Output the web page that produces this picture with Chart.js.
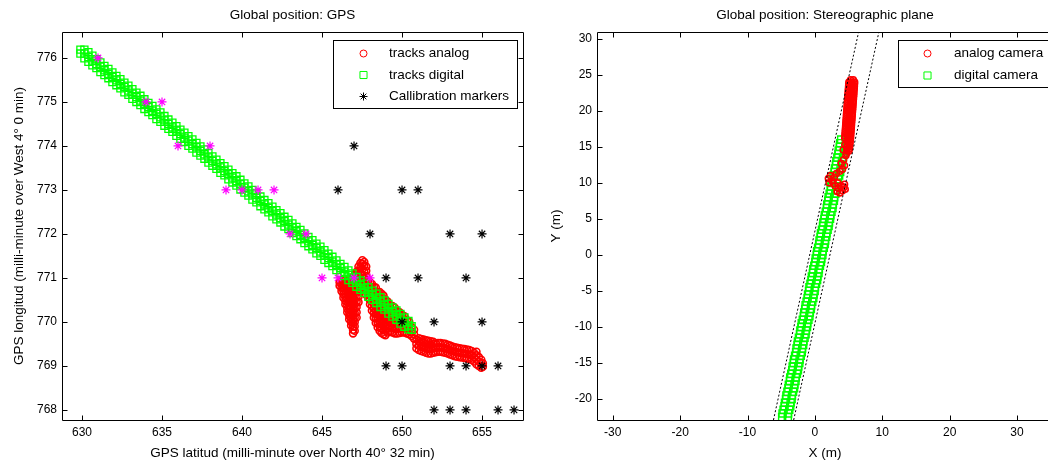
<!DOCTYPE html>
<html>
<head>
<meta charset="utf-8">
<title>Global position</title>
<script src="https://cdn.jsdelivr.net/npm/chart.js@4.4.1/dist/chart.umd.min.js"></script>
<style>
  html, body { margin: 0; padding: 0; background: #fff; overflow: hidden; }
  #wrap { position: relative; width: 1048px; height: 464px; overflow: hidden; background: #fff; }
  #gps { position: absolute; left: 0; top: 0; }
  #plane { position: absolute; left: 520px; top: 0; }
</style>
</head>
<body>
<div id="wrap">
  <canvas id="gps" width="530" height="464"></canvas>
  <canvas id="plane" width="540" height="464"></canvas>
</div>
<script>
// ---- axis ranges and tick labels
const gpsXRange = [628.75, 657.56];
const gpsYRange = [767.77, 776.59];
const gpsXTicks = [630, 635, 640, 645, 650, 655];
const gpsYTicks = [768, 769, 770, 771, 772, 773, 774, 775, 776];

const planeXRange = [-32.34, 35.34];
const planeYRange = [-22.91, 30.93];
const planeXTicks = [-30, -20, -10, 0, 10, 20, 30];
const planeYTicks = [-20, -15, -10, -5, 0, 5, 10, 15, 20, 25, 30];

// ---- left plot: GPS positions (latitude, longitude)
const calibBlack = [
  [647, 774], [646, 773], [650, 773], [651, 773], [648, 772], [653, 772], [655, 772],
  [649, 771], [651, 771], [654, 771], [650, 770], [652, 770], [655, 770],
  [649, 769], [650, 769], [653, 769], [654, 769], [655, 769], [656, 769],
  [652, 768], [653, 768], [654, 768], [656, 768], [657, 768]
];
const calibMagenta = [
  [631, 776], [634, 775], [635, 775], [636, 774], [638, 774], [639, 773], [640, 773],
  [641, 773], [642, 773], [643, 772], [644, 772], [645, 771], [646, 771], [647, 771], [648, 771]
];
// digital track: each row is [latitude, longitudes...]
const gpsDigitalCols = [
  [629.90,776.10,776.19],[630.15,775.99,776.10,776.19],[630.40,775.91,776.02,776.13],[630.65,775.83,775.94,776.05],
  [630.90,775.77,775.86,775.97],[631.15,775.68,775.80,775.90],[631.40,775.61,775.72,775.82],[631.65,775.54,775.64,775.75],
  [631.90,775.45,775.57,775.67],[632.15,775.38,775.49,775.59],[632.40,775.31,775.41,775.52],[632.65,775.22,775.34,775.44],
  [632.90,775.16,775.26,775.37],[633.15,775.07,775.19,775.29],[633.40,775.00,775.11,775.21],[633.65,774.93,775.03,775.14],
  [633.90,774.84,774.96,775.06],[634.15,774.77,774.88,774.98],[634.40,774.70,774.80,774.91],[634.65,774.61,774.73,774.83],
  [634.90,774.55,774.65,774.76],[635.15,774.46,774.58,774.68],[635.40,774.39,774.50,774.60],[635.65,774.32,774.42,774.53],
  [635.90,774.23,774.35,774.45],[636.15,774.16,774.27,774.37],[636.40,774.09,774.19,774.30],[636.65,774.00,774.12,774.22],
  [636.90,773.94,774.04,774.15],[637.15,773.85,773.97,774.07],[637.40,773.78,773.89,773.99],[637.65,773.71,773.81,773.92],
  [637.90,773.62,773.74,773.84],[638.15,773.55,773.66,773.76],[638.40,773.48,773.58,773.69],[638.65,773.39,773.51,773.61],
  [638.90,773.33,773.43,773.54],[639.15,773.24,773.36,773.46],[639.40,773.17,773.28,773.38],[639.65,773.10,773.20,773.31],
  [639.90,773.01,773.13,773.23],[640.15,772.94,773.05,773.15],[640.40,772.87,772.97,773.08],[640.65,772.78,772.90,773.00],
  [640.90,772.72,772.82,772.93],[641.15,772.63,772.75,772.85],[641.40,772.56,772.67,772.77],[641.65,772.49,772.59,772.70],
  [641.90,772.40,772.52,772.62],[642.15,772.33,772.44,772.54],[642.40,772.26,772.36,772.47],[642.65,772.17,772.29,772.39],
  [642.90,772.11,772.21,772.32],[643.15,772.02,772.14,772.24],[643.40,771.95,772.06,772.16],[643.65,771.88,771.98,772.09],
  [643.90,771.79,771.91,772.01],[644.15,771.72,771.83,771.93],[644.40,771.65,771.75,771.86],[644.65,771.56,771.68,771.78],
  [644.90,771.50,771.60,771.71],[645.15,771.41,771.53,771.63],[645.40,771.34,771.45,771.55],[645.65,771.27,771.37,771.48],
  [645.90,771.18,771.30,771.40],[646.15,771.11,771.22,771.32],[646.40,771.04,771.14,771.25],[646.65,770.95,771.07,771.17],
  [646.90,770.89,770.99,771.10],[647.15,770.80,770.92,771.02],[647.40,770.73,770.84,770.94],[647.65,770.66,770.76,770.87],
  [647.90,770.57,770.69,770.79],[648.15,770.50,770.61,770.71],[648.40,770.43,770.53,770.64],[648.65,770.34,770.46,770.56],
  [648.90,770.28,770.38,770.49],[649.15,770.19,770.31,770.41],[649.40,770.12,770.23,770.33],[649.65,770.05,770.15,770.26],
  [649.90,769.96,770.08,770.18],[650.15,769.89,770.00,770.10],[650.40,769.83,769.92,770.02],[650.60,769.82,769.90]
];
// analog track: each row is [latitude, longitudes...]
const gpsAnalogCols = [
  // first dip and peak
  [646.10,770.82,770.90],
  [646.22,770.70,770.78,770.86,770.94],
  [646.34,770.55,770.63,770.71,770.79,770.87,770.95],
  [646.46,770.40,770.48,770.56,770.64,770.72,770.80,770.88,770.96],
  [646.58,770.22,770.30,770.38,770.46,770.54,770.62,770.70,770.78,770.86,770.94],
  [646.70,770.06,770.14,770.22,770.30,770.38,770.46,770.54,770.62,770.70,770.78,770.86,770.95],
  [646.82,769.92,770.00,770.08,770.16,770.24,770.32,770.40,770.50,770.60,770.70,770.80,770.90,770.98],
  [646.94,769.74,769.82,769.90,769.98,770.06,770.14,770.22,770.30,770.40,770.50,770.60,770.70,770.80,770.90,771.00],
  [647.04,769.80,769.90,770.00,770.10,770.20,770.30,770.40,770.50,770.60,770.70,770.80,770.90,771.00,771.08],
  [647.16,770.10,770.22,770.34,770.46,770.58,770.70,770.82,770.94,771.06,771.14],
  [647.28,770.45,770.58,770.70,770.82,770.94,771.06,771.16,771.26],
  [647.40,770.70,770.85,771.00,771.12,771.24,771.34],
  [647.52,770.78,770.92,771.06,771.20,771.32,771.40],
  [647.64,770.72,770.86,771.00,771.14,771.28,771.36],
  [647.76,770.62,770.76,770.90,771.04,771.16,771.26],
  // second slope
  [647.88,770.55,770.65,770.75,770.85,770.95],
  [648.00,770.40,770.50,770.60,770.70,770.80,770.90],
  [648.12,770.26,770.36,770.46,770.56,770.66,770.76,770.86],
  [648.24,770.10,770.20,770.30,770.40,770.50,770.60,770.70,770.80],
  [648.36,769.98,770.08,770.18,770.28,770.38,770.48,770.58,770.68,770.78],
  [648.48,769.88,769.98,770.08,770.18,770.28,770.38,770.48,770.58,770.68],
  [648.60,769.80,769.90,770.00,770.10,770.20,770.30,770.40,770.50,770.60,770.68],
  [648.72,769.75,769.85,769.95,770.05,770.15,770.25,770.35,770.45,770.55,770.64],
  [648.84,769.72,769.82,769.92,770.02,770.12,770.22,770.32,770.42,770.52,770.60],
  [648.96,769.70,769.80,769.90,770.00,770.10,770.20,770.30,770.40,770.50],
  [649.10,769.76,769.86,769.96,770.06,770.16,770.26,770.36,770.46],
  [649.25,769.78,769.88,769.98,770.08,770.18,770.28,770.38],
  [649.40,769.76,769.86,769.96,770.06,770.16,770.26,770.36],
  [649.55,769.74,769.84,769.94,770.04,770.14,770.24,770.32],
  [649.70,769.74,769.84,769.94,770.04,770.14,770.24],
  [649.85,769.75,769.85,769.95,770.05,770.15,770.22],
  [650.00,769.76,769.86,769.96,770.06,770.16],
  [650.15,769.76,769.86,769.96,770.06,770.13],
  [650.30,769.74,769.84,769.94,770.04],
  [650.45,769.72,769.82,769.92,770.00],
  [650.60,769.68,769.78,769.88],
  [650.75,769.62,769.72,769.82],
  // last stretch
  [650.90,769.40,769.50,769.60],
  [651.05,769.36,769.46,769.56,769.63],
  [651.20,769.34,769.44,769.54,769.61],
  [651.35,769.32,769.42,769.52,769.60],
  [651.50,769.30,769.40,769.50,769.58],
  [651.65,769.28,769.38,769.48,769.57],
  [651.80,769.28,769.38,769.48,769.56],
  [651.95,769.30,769.40,769.50,769.55],
  [652.10,769.31,769.41,769.51],
  [652.25,769.32,769.42,769.52],
  [652.40,769.32,769.42,769.52],
  [652.55,769.31,769.41,769.51],
  [652.70,769.30,769.40,769.50],
  [652.85,769.28,769.38,769.48],
  [653.00,769.26,769.36,769.46],
  [653.15,769.24,769.34,769.44],
  [653.30,769.22,769.32,769.42],
  [653.45,769.21,769.31,769.41],
  [653.60,769.20,769.30,769.40],
  [653.75,769.19,769.29,769.39],
  [653.90,769.18,769.28,769.38],
  [654.05,769.17,769.27,769.37],
  [654.20,769.16,769.26,769.36],
  [654.35,769.14,769.24,769.34],
  [654.50,769.10,769.20,769.30],
  [654.65,769.04,769.14,769.24,769.32],
  [654.80,769.00,769.10,769.20],
  [654.95,768.96,769.06,769.14],
  [655.05,768.98,769.06]
];

// ---- right plot: stereographic plane (X m, Y m)
const fovLeft = [[-6.15, -22.91], [6.49, 30.93]];
const fovRight = [[-3.15, -22.91], [9.50, 30.93]];
const planeDigital = [
  [-4.86,-22.5],[-4.02,-22.5],[-4.80,-22.0],[-3.97,-22.0],[-4.65,-21.5],[-3.81,-21.5],[-4.50,-21.0],[-3.66,-21.0],
  [-4.44,-20.5],[-3.60,-20.5],[-4.29,-20.0],[-3.45,-20.0],[-4.23,-19.5],[-3.40,-19.5],[-4.08,-19.0],[-3.24,-19.0],
  [-3.93,-18.5],[-3.09,-18.5],[-3.87,-18.0],[-3.03,-18.0],[-3.72,-17.5],[-2.88,-17.5],[-3.66,-17.0],[-2.83,-17.0],
  [-3.51,-16.5],[-2.67,-16.5],[-3.36,-16.0],[-2.52,-16.0],[-3.30,-15.5],[-2.46,-15.5],[-3.15,-15.0],[-2.31,-15.0],
  [-3.09,-14.5],[-2.26,-14.5],[-2.94,-14.0],[-2.10,-14.0],[-2.79,-13.5],[-1.95,-13.5],[-2.73,-13.0],[-1.89,-13.0],
  [-2.58,-12.5],[-1.74,-12.5],[-2.52,-12.0],[-1.69,-12.0],[-2.37,-11.5],[-1.53,-11.5],[-2.22,-11.0],[-1.38,-11.0],
  [-2.16,-10.5],[-1.32,-10.5],[-2.01,-10.0],[-1.17,-10.0],[-1.95,-9.5],[-1.12,-9.5],[-1.80,-9.0],[-0.96,-9.0],
  [-1.65,-8.5],[-0.81,-8.5],[-1.59,-8.0],[-0.75,-8.0],[-1.44,-7.5],[-0.60,-7.5],[-1.38,-7.0],[-0.55,-7.0],
  [-1.23,-6.5],[-0.39,-6.5],[-1.08,-6.0],[-0.24,-6.0],[-1.02,-5.5],[-0.18,-5.5],[-0.87,-5.0],[-0.03,-5.0],
  [-0.81,-4.5],[0.02,-4.5],[-0.66,-4.0],[0.18,-4.0],[-0.51,-3.5],[0.33,-3.5],[-0.45,-3.0],[0.39,-3.0],
  [-0.30,-2.5],[0.54,-2.5],[-0.24,-2.0],[0.59,-2.0],[-0.09,-1.5],[0.75,-1.5],[0.06,-1.0],[0.90,-1.0],
  [0.12,-0.5],[0.96,-0.5],[0.27,0.0],[1.11,0.0],[0.33,0.5],[1.16,0.5],[0.48,1.0],[1.32,1.0],
  [0.63,1.5],[1.47,1.5],[0.69,2.0],[1.53,2.0],[0.84,2.5],[1.68,2.5],[0.90,3.0],[1.73,3.0],
  [1.05,3.5],[1.89,3.5],[1.20,4.0],[2.04,4.0],[1.26,4.5],[2.10,4.5],[1.41,5.0],[2.25,5.0],
  [1.47,5.5],[2.30,5.5],[1.62,6.0],[2.46,6.0],[1.77,6.5],[2.61,6.5],[1.83,7.0],[2.67,7.0],
  [1.98,7.5],[2.82,7.5],[2.04,8.0],[2.87,8.0],[2.19,8.5],[3.03,8.5],[2.34,9.0],[3.18,9.0],
  [2.40,9.5],[3.24,9.5],[2.55,10.0],[3.39,10.0],[2.61,10.5],[3.44,10.5],[2.76,11.0],[3.60,11.0],
  [2.91,11.5],[3.75,11.5],[2.97,12.0],[3.81,12.0],[3.12,12.5],[3.96,12.5],[3.18,13.0],[4.01,13.0],
  [3.33,13.5],[4.17,13.5],[3.48,14.0],[4.32,14.0],[3.54,14.5],[4.38,14.5],[3.69,15.0],[4.53,15.0],
  [3.75,15.5],[4.58,15.5],[3.90,16.0],[4.74,16.0]
];
// analog camera, upper part: each row is [Y, X values...]
const planeAnalogRows = [
  [24.3,5.30,5.70],[24.0,5.05,5.50,5.90],[23.7,5.02,5.46,5.88],[23.4,5.00,5.44,5.86],[23.1,4.98,5.42,5.84],
  [22.8,4.95,5.39,5.81],[22.5,4.93,5.37,5.79],[22.2,4.91,5.35,5.77],[21.9,4.88,5.32,5.74],[21.6,4.86,5.30,5.72],
  [21.3,4.83,5.27,5.69],[21.0,4.81,5.25,5.67],[20.7,4.79,5.23,5.65],[20.4,4.76,5.20,5.62],[20.1,4.74,5.18,5.60],
  [19.8,4.71,5.15,5.57],[19.5,4.69,5.13,5.55],[19.2,4.67,5.11,5.53],[18.9,4.64,5.08,5.50],[18.6,4.62,5.06,5.48],
  [18.3,4.59,5.03,5.45],[18.0,4.57,5.01,5.43],[17.7,4.55,4.99,5.41],[17.4,4.52,4.96,5.38],[17.1,4.50,4.94,5.36],
  [16.8,4.47,4.91,5.33],[16.5,4.45,4.89,5.31],[16.2,4.43,4.87,5.29],[15.9,4.85,5.25],[15.6,4.83,5.22],
  [15.3,4.80,5.18],[15.0,4.78,5.15],[14.7,4.75,5.10],[14.4,4.72,5.05],[14.1,4.70]
];
// analog camera, scattered points over the digital track (X, Y)
const planeAnalogLow = [
  [4.45,15.30],[4.20,14.60],[4.60,13.80],[4.25,13.20],[3.90,12.70],[4.40,12.40],[4.10,11.90],[3.70,11.60],
  [2.00,10.60],[2.30,11.00],[2.60,10.30],[2.10,10.00],[2.90,10.80],[3.20,11.30],[3.40,10.00],[3.00,9.60],
  [3.50,9.20],[3.90,9.60],[4.30,9.40],[4.50,9.10],[4.10,8.90],[3.70,8.60],[3.30,8.80],[2.70,9.90],[4.40,9.80]
];

// ---- look
const FONT = '"Liberation Sans", Arial, sans-serif';
Chart.defaults.font.family = FONT;
Chart.defaults.color = '#000';

const toPts = arr => arr.map(p => ({ x: p[0], y: p[1] }));
// [x, y1, y2...] -> points
const colsToPts = rows => rows.flatMap(r => r.slice(1).map(v => ({ x: r[0], y: v })));
// [y, x1, x2...] -> points
const rowsToPts = rows => rows.flatMap(r => r.slice(1).map(v => ({ x: v, y: r[0] })));

function markerDataset(label, pts, style, radius, color, width) {
  return {
    label: label,
    data: pts,
    pointStyle: style,
    pointRadius: radius,
    pointHoverRadius: radius,
    pointBorderColor: color,
    pointBackgroundColor: 'rgba(0,0,0,0)',
    pointBorderWidth: width || 1,
    borderColor: color,
    showLine: false,
    clip: 0
  };
}

function lineDataset(data) {
  return {
    data: toPts(data),
    showLine: true,
    pointRadius: 0,
    borderColor: '#000',
    borderWidth: 1,
    borderDash: [2, 2],
    clip: 0
  };
}

// draws a legend marker by hand
function drawMarker(ctx, style, r, x, y) {
  ctx.beginPath();
  if (style === 'circle') {
    ctx.arc(x, y, r, 0, Math.PI * 2);
  } else if (style === 'rect') {
    const s = r * Math.SQRT1_2;
    ctx.rect(x - s, y - s, 2 * s, 2 * s);
  } else {
    const d = r * Math.SQRT1_2;
    ctx.moveTo(x - r, y); ctx.lineTo(x + r, y);
    ctx.moveTo(x, y - r); ctx.lineTo(x, y + r);
    ctx.moveTo(x - d, y - d); ctx.lineTo(x + d, y + d);
    ctx.moveTo(x - d, y + d); ctx.lineTo(x + d, y - d);
  }
  ctx.stroke();
}

// box, inward ticks, title and legend like the original figure
const matlabAxes = {
  id: 'matlabAxes',
  afterDatasetsDraw(chart, args, opts) {
    const { ctx, chartArea: a, scales } = chart;
    const L = Math.floor(a.left) + 0.5, R = Math.floor(a.right) + 0.5;
    const T = Math.floor(a.top) + 0.5, B = Math.floor(a.bottom) + 0.5;
    ctx.save();
    ctx.strokeStyle = '#000';
    ctx.lineWidth = 1;
    ctx.setLineDash([]);
    ctx.beginPath();
    ctx.rect(L, T, R - L, B - T);
    scales.x.ticks.forEach(t => {
      const px = Math.round(scales.x.getPixelForValue(t.value)) + 0.5;
      ctx.moveTo(px, B); ctx.lineTo(px, B - 5);
      ctx.moveTo(px, T); ctx.lineTo(px, T + 5);
    });
    scales.y.ticks.forEach(t => {
      const py = Math.round(scales.y.getPixelForValue(t.value)) + 0.5;
      ctx.moveTo(L, py); ctx.lineTo(L + 5, py);
      ctx.moveTo(R, py); ctx.lineTo(R - 5, py);
    });
    ctx.stroke();

    // title
    ctx.fillStyle = '#000';
    ctx.font = '13.5px ' + FONT;
    ctx.textAlign = 'center';
    ctx.textBaseline = 'middle';
    ctx.fillText(opts.title, (a.left + a.right) / 2, 15);

    // legend
    const lg = opts.legend;
    const [x0, y0, x1, y1] = lg.box;
    ctx.fillStyle = '#fff';
    ctx.fillRect(x0, y0, x1 - x0, y1 - y0);
    ctx.strokeStyle = '#000';
    ctx.strokeRect(x0, y0, x1 - x0, y1 - y0);
    lg.items.forEach((it, i) => {
      const y = lg.rows[i];
      ctx.strokeStyle = it.color;
      drawMarker(ctx, it.style, it.radius, lg.markerX, y);
      ctx.fillStyle = '#000';
      ctx.textAlign = 'left';
      ctx.fillText(it.text, lg.textX, y);
    });
    ctx.restore();
  }
};

function axes(range, ticks, title, fitSize, isX, titlePad) {
  return {
    type: 'linear',
    position: isX ? 'bottom' : 'left',
    min: range[0],
    max: range[1],
    grid: { display: false, drawTicks: false },
    border: { display: false },
    ticks: {
      padding: 5,
      font: { size: 12 },
      color: '#000',
      callback: v => String(v)
    },
    title: {
      display: true,
      text: title,
      color: '#000',
      font: { size: 13.5 },
      padding: titlePad
    },
    afterBuildTicks: s => { s.ticks = ticks.map(v => ({ value: v })); },
    afterFit: s => { if (isX) s.height = fitSize; else s.width = fitSize; }
  };
}

const baseOptions = {
  responsive: false,
  animation: false,
  events: [],
  layout: { autoPadding: false, padding: { top: 32, right: 7, bottom: 0, left: 0 } },
  plugins: { legend: { display: false }, tooltip: { enabled: false }, title: { display: false } }
};

// left chart: GPS
new Chart(document.getElementById('gps'), {
  type: 'scatter',
  data: {
    datasets: [
      markerDataset('markers on track', toPts(calibMagenta), 'star', 4.5, '#ff00ff', 1.2),
      markerDataset('Callibration markers', toPts(calibBlack), 'star', 4.5, '#000000', 1.2),
      markerDataset('tracks digital', colsToPts(gpsDigitalCols), 'rect', 5, '#00ff00', 1.3),
      markerDataset('tracks analog', colsToPts(gpsAnalogCols), 'circle', 3.5, '#ff0000', 1.6)
    ]
  },
  options: Object.assign({}, baseOptions, {
    scales: {
      x: axes(gpsXRange, gpsXTicks, 'GPS latitud (milli-minute over North 40\u00b0 32 min)', 44, true, { bottom: 3 }),
      y: axes(gpsYRange, gpsYTicks, 'GPS longitud (milli-minute over West 4\u00b0 0 min)', 62, false, { top: 11 })
    },
    plugins: Object.assign({}, baseOptions.plugins, {
      matlabAxes: {
        title: 'Global position: GPS',
        legend: {
          box: [333.5, 40.5, 517.5, 108.5],
          markerX: 363.5,
          textX: 389,
          rows: [53.5, 75, 96.5],
          items: [
            { text: 'tracks analog', style: 'circle', radius: 3.5, color: '#ff0000' },
            { text: 'tracks digital', style: 'rect', radius: 5, color: '#00ff00' },
            { text: 'Callibration markers', style: 'star', radius: 4, color: '#000000' }
          ]
        }
      }
    })
  }),
  plugins: [matlabAxes]
});

// right chart: stereographic plane
new Chart(document.getElementById('plane'), {
  type: 'scatter',
  data: {
    datasets: [
      lineDataset(fovLeft),
      lineDataset(fovRight),
      markerDataset('analog camera', rowsToPts(planeAnalogRows).concat(toPts(planeAnalogLow)), 'circle', 3, '#ff0000', 1.6),
      markerDataset('digital camera', toPts(planeDigital), 'rect', 5, '#00ff00', 1.4)
    ]
  },
  options: Object.assign({}, baseOptions, {
    scales: {
      x: axes(planeXRange, planeXTicks, 'X (m)', 44, true, { bottom: 3 }),
      y: axes(planeYRange, planeYTicks, 'Y (m)', 77, false, { top: 28 })
    },
    plugins: Object.assign({}, baseOptions.plugins, {
      matlabAxes: {
        title: 'Global position: Stereographic plane',
        legend: {
          box: [378.5, 40.5, 560, 87.5],
          markerX: 407.5,
          textX: 434,
          rows: [53.5, 75.5],
          items: [
            { text: 'analog camera', style: 'circle', radius: 3.5, color: '#ff0000' },
            { text: 'digital camera', style: 'rect', radius: 5, color: '#00ff00' }
          ]
        }
      }
    })
  }),
  plugins: [matlabAxes]
});
</script>
</body>
</html>
